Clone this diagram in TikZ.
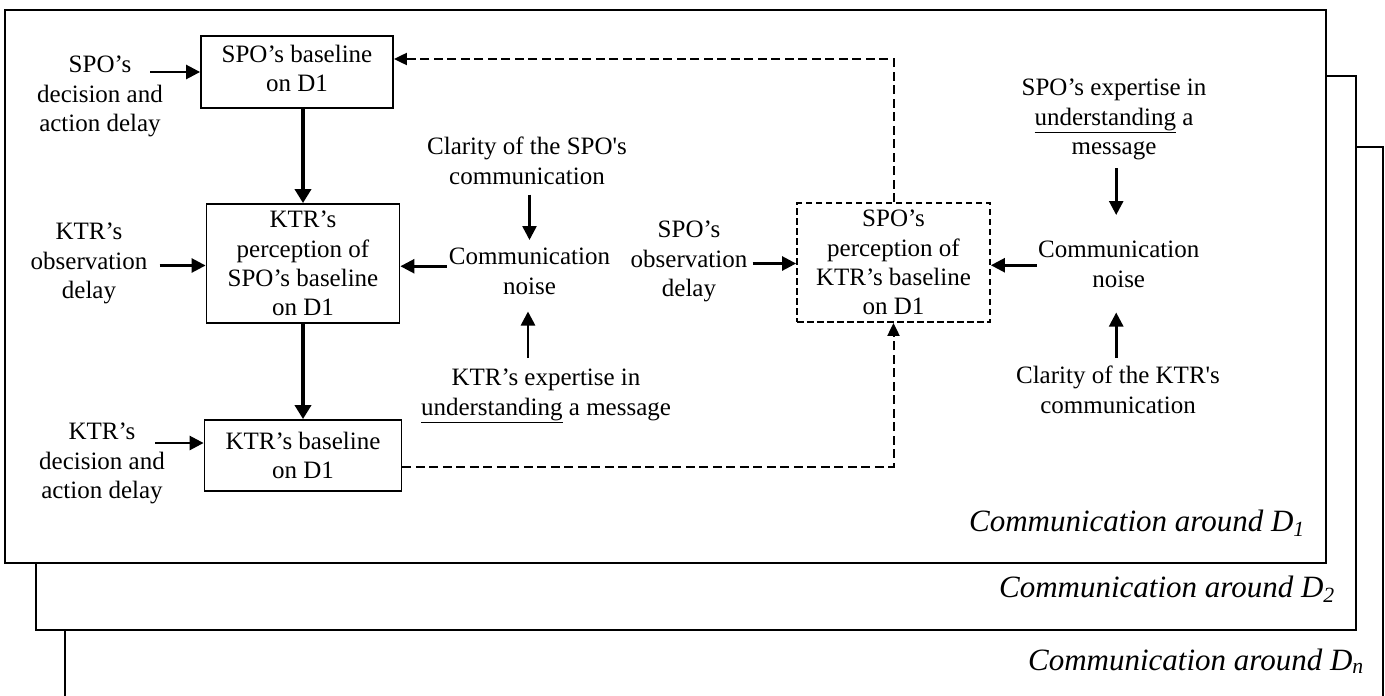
\documentclass[tikz,border=0pt]{standalone}
\usepackage{fontspec}
\setmainfont{Liberation Serif}[Ligatures=TeXOff]
\usetikzlibrary{arrows.meta,calc}
\newcommand{\myfs}{\fontsize{25}{29.3}\selectfont}
\newcommand{\mybigfs}{\fontsize{31}{36}\selectfont}
\begin{document}
\begin{tikzpicture}[x=1pt,y=-1pt,
  frame/.style={draw, line width=1.8pt, fill=white},
  lbl/.style={align=center, inner sep=0pt, font=\myfs},
  box/.style={draw, line width=1.8pt, align=center, inner sep=0pt, font=\myfs},
  dbox/.style={box, dash pattern=on 6.5pt off 3.5pt},
  arr/.style={line width=2.6pt, -{Triangle[length=14pt,width=14pt]}},
  tarr/.style={line width=4.5pt, -{Triangle[length=14pt,width=16pt]}},
  darr/.style={line width=2pt, dash pattern=on 9pt off 4.5pt, -{Triangle[length=13pt,width=12pt]}},
  ilbl/.style={anchor=base east, inner sep=0pt, font=\mybigfs\itshape}]
\useasboundingbox (0,0) rectangle (1385,696);
\fill[white] (0,0) rectangle (1385,696);

% stacked frames
\draw[frame] (65,147) rectangle (1383,740);
\draw[frame] (36,76) rectangle (1356,630);
\draw[frame] (5,10) rectangle (1326,563);

\node[ilbl] (l1) at (1305,531) {Communication around D\textsubscript{1}};
\node[ilbl] (l2) at (1335,597) {Communication around D\textsubscript{2}};
\node[ilbl] (ln) at (1364,670) {Communication around D\textsubscript{n}};

% boxes
\node[box, minimum width=192pt, minimum height=72pt] (spobase) at (297,72) {SPO’s baseline\\on D1\rule[-8pt]{0pt}{8pt}};
\node[box, minimum width=193pt, minimum height=119pt] (ktrperc) at (303,263.5) {KTR’s\\perception of\\SPO’s baseline\\on D1};
\node[box, minimum width=197pt, minimum height=71pt] (ktrbase) at (303,455.5) {KTR’s baseline\\on D1};
\node[dbox, minimum width=193pt, minimum height=119pt] (spoperc) at (893.5,262.5) {SPO’s\\perception of\\KTR’s baseline\\on D1};

% labels
\node[lbl, anchor=north] (spodelay) at (100,56) {SPO’s\\decision and\\action delay};
\node[lbl, anchor=north] (ktrobs) at (89,223) {KTR’s\\observation\\delay};
\node[lbl, anchor=north] (ktrdelay) at (102,423) {KTR’s\\decision and\\action delay};
\node[lbl, anchor=north] (clar1) at (527,137) {Clarity of the SPO's\\communication};
\node[lbl, anchor=north] (noise1) at (529.5,248) {Communication\\noise};
\node[lbl, anchor=north] (exp1) at (546,369) {KTR’s expertise in\\\underline{understanding} a message};
\node[lbl, anchor=north] (spoobs) at (689,221) {SPO’s\\observation\\delay};
\node[lbl, anchor=north] (exp2) at (1114,79) {SPO’s expertise in\\\underline{understanding} a\\message};
\node[lbl, anchor=north] (noise2) at (1118.7,241) {Communication\\noise};
\node[lbl, anchor=north] (clar2) at (1118,366) {Clarity of the KTR's\\communication};

% thin arrows
\draw[arr] ($(spodelay.east |- spobase.east)+(-13,0)$) -- (spobase.west);
\draw[arr] ($(ktrobs.east |- ktrperc.west)+(12,2)$) -- ($(ktrperc.west)+(0,2)$);
\draw[arr] ($(ktrdelay.east |- ktrbase.west)+(-10,-12.5)$) -- ($(ktrbase.west)+(0,-12.5)$);
\draw[arr] ($(clar1.south -| noise1.north)+(0,10)$) -- ($(noise1.north)+(0,-8)$);
\draw[arr] ($(noise1.west)+(-2,-5)$) -- ($(noise1.west -| ktrperc.east)+(0,-5)$);
\draw[arr] ($(exp1.north -| noise1.south)+(-1.5,-11)$) -- ($(noise1.south)+(-1.5,17)$);
\draw[arr] ($(spoobs.east)+(5,2)$) -- ($(spoobs.east -| spoperc.west)+(0,2)$);
\draw[arr] ($(exp2.south -| noise2.north)+(-2.5,8)$) -- ($(noise2.north)+(-2.5,-26)$);
\draw[arr] ($(clar2.north -| noise2.south)+(-2.5,-8)$) -- ($(noise2.south)+(-2.5,25)$);
\draw[arr] ($(noise2.west)+(-1,1)$) -- ($(noise2.west -| spoperc.east)+(0,1)$);

% thick arrows
\draw[tarr] (spobase.south -| ktrperc.north) -- (ktrperc.north);
\draw[tarr] (ktrperc.south) -- (ktrperc.south |- ktrbase.north);

% dashed feedback connectors
\draw[darr] (spoperc.north) |- ($(spobase.east)+(0,-13)$);
\draw[darr] ($(ktrbase.east)+(0,11)$) -| (spoperc.south);
\end{tikzpicture}
\end{document}
